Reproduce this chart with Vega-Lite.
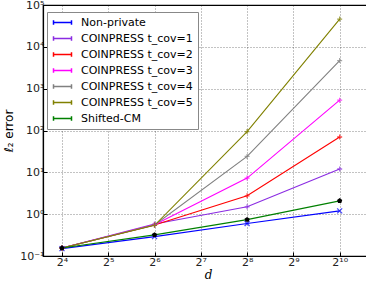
{
  "$schema": "https://vega.github.io/schema/vega-lite/v6.json",
  "width": 330,
  "height": 251,
  "autosize": "none",
  "padding": {"left": 43, "top": 5, "right": 0, "bottom": 31},
  "background": "white",
  "config": {
    "view": {"stroke": "#000", "strokeWidth": 1.2},
    "font": "DejaVu Sans",
    "axis": {"grid": true, "gridColor": "#000", "gridDash": [1, 2], "gridOpacity": 0.6, "gridWidth": 0.8,
             "domainColor": "#000", "domainWidth": 1.2, "tickColor": "#000", "tickSize": -4,
             "labelFontSize": 11, "labelColor": "#222", "labelFont": "DejaVu Sans"}
  },
  "data": {"values": [
    {"d": 16, "err": 0.15, "series": "Non-private"},
    {"d": 64, "err": 0.29, "series": "Non-private"},
    {"d": 256, "err": 0.6, "series": "Non-private"},
    {"d": 1024, "err": 1.2, "series": "Non-private"},
    {"d": 16, "err": 0.155, "series": "COINPRESS t_cov=1"},
    {"d": 64, "err": 0.58, "series": "COINPRESS t_cov=1"},
    {"d": 256, "err": 1.5, "series": "COINPRESS t_cov=1"},
    {"d": 1024, "err": 12, "series": "COINPRESS t_cov=1"},
    {"d": 16, "err": 0.155, "series": "COINPRESS t_cov=2"},
    {"d": 64, "err": 0.55, "series": "COINPRESS t_cov=2"},
    {"d": 256, "err": 2.75, "series": "COINPRESS t_cov=2"},
    {"d": 1024, "err": 70, "series": "COINPRESS t_cov=2"},
    {"d": 16, "err": 0.155, "series": "COINPRESS t_cov=3"},
    {"d": 64, "err": 0.56, "series": "COINPRESS t_cov=3"},
    {"d": 256, "err": 7.3, "series": "COINPRESS t_cov=3"},
    {"d": 1024, "err": 530, "series": "COINPRESS t_cov=3"},
    {"d": 16, "err": 0.155, "series": "COINPRESS t_cov=4"},
    {"d": 64, "err": 0.55, "series": "COINPRESS t_cov=4"},
    {"d": 256, "err": 24, "series": "COINPRESS t_cov=4"},
    {"d": 1024, "err": 4700, "series": "COINPRESS t_cov=4"},
    {"d": 16, "err": 0.155, "series": "COINPRESS t_cov=5"},
    {"d": 64, "err": 0.54, "series": "COINPRESS t_cov=5"},
    {"d": 256, "err": 94, "series": "COINPRESS t_cov=5"},
    {"d": 1024, "err": 46000, "series": "COINPRESS t_cov=5"},
    {"d": 16, "err": 0.155, "series": "Shifted-CM"},
    {"d": 64, "err": 0.32, "series": "Shifted-CM"},
    {"d": 256, "err": 0.74, "series": "Shifted-CM"},
    {"d": 1024, "err": 2.08, "series": "Shifted-CM"}
  ]},
  "encoding": {
    "x": {"field": "d", "type": "quantitative",
          "scale": {"type": "log", "base": 2, "domain": [12.04, 1687], "nice": false},
          "axis": {"values": [16, 32, 64, 128, 256, 512, 1024], "title": "d",
                   "titleFont": "DejaVu Serif", "titleFontStyle": "italic", "titleFontWeight": "normal", "titleFontSize": 12, "titlePadding": 2,
                   "labelPadding": 4,
                   "labelExpr": "'2' + ['⁰','¹','²','³','⁴','⁵','⁶','⁷','⁸','⁹','¹⁰'][round(log(datum.value)/LN2)]"}},
    "y": {"field": "err", "type": "quantitative",
          "scale": {"type": "log", "domain": [0.1, 100000], "nice": false},
          "axis": {"values": [0.1, 1, 10, 100, 1000, 10000, 100000], "title": "ℓ₂ error",
                   "titleFontWeight": "normal", "titleFontSize": 12, "titlePadding": 4, "labelPadding": 3,
                   "labelExpr": "datum.value < 0.5 ? '10⁻¹' : datum.value < 5 ? '10⁰' : datum.value < 50 ? '10¹' : datum.value < 500 ? '10²' : datum.value < 5000 ? '10³' : datum.value < 50000 ? '10⁴' : '10⁵'"}}
  },
  "layer": [
    {
      "mark": {"type": "line", "strokeWidth": 1.1, "clip": true},
      "encoding": {
        "color": {"field": "series", "type": "nominal",
                  "scale": {"domain": ["Non-private", "COINPRESS t_cov=1", "COINPRESS t_cov=2", "COINPRESS t_cov=3", "COINPRESS t_cov=4", "COINPRESS t_cov=5", "Shifted-CM"],
                            "range": ["#0000ff", "#8a2be2", "#ff0000", "#ff00ff", "#808080", "#808000", "#008000"]},
                  "legend": {"orient": "none", "legendX": 4, "legendY": 7, "title": null,
                             "symbolType": "M-2,0L2,0M-2,-0.5L-2,0.5M2,-0.5L2,0.5", "symbolSize": 81, "symbolStrokeWidth": 1.5,
                             "symbolOffset": 5,
                             "labelFontSize": 11, "labelColor": "#000", "rowPadding": 4, "labelOffset": 13,
                             "strokeColor": "#888", "fillColor": "white", "padding": 5, "cornerRadius": 0}}
      }
    },
    {
      "transform": [{"filter": "datum.series != 'Shifted-CM'"}],
      "mark": {"type": "point", "filled": false, "strokeWidth": 1.3, "size": 25, "clip": true},
      "encoding": {
        "color": {"field": "series", "type": "nominal",
                  "scale": {"domain": ["Non-private", "COINPRESS t_cov=1", "COINPRESS t_cov=2", "COINPRESS t_cov=3", "COINPRESS t_cov=4", "COINPRESS t_cov=5"],
                            "range": ["#0000ff", "#8a2be2", "#ff0000", "#ff00ff", "#808080", "#808000"]},
                  "legend": null},
        "shape": {"field": "series", "type": "nominal",
                  "scale": {"domain": ["Non-private", "COINPRESS t_cov=1", "COINPRESS t_cov=2", "COINPRESS t_cov=3", "COINPRESS t_cov=4", "COINPRESS t_cov=5"],
                            "range": ["M-1,-1L1,1M-1,1L1,-1", "M-1,0L1,0M0,-1L0,1", "M-1,0L1,0M0,-1L0,1", "M-1,0L1,0M0,-1L0,1", "M-1,0L1,0M0,-1L0,1", "M-1,0L1,0M0,-1L0,1"]},
                  "legend": null}
      }
    },
    {
      "transform": [{"filter": "datum.series == 'Shifted-CM'"}],
      "mark": {"type": "point", "filled": true, "color": "#000", "size": 30, "opacity": 1, "clip": true,
               "shape": "M0,-1L0.951,-0.309L0.588,0.809L-0.588,0.809L-0.951,-0.309Z"}
    }
  ],
  "resolve": {"scale": {"color": "independent", "shape": "independent"}}
}
